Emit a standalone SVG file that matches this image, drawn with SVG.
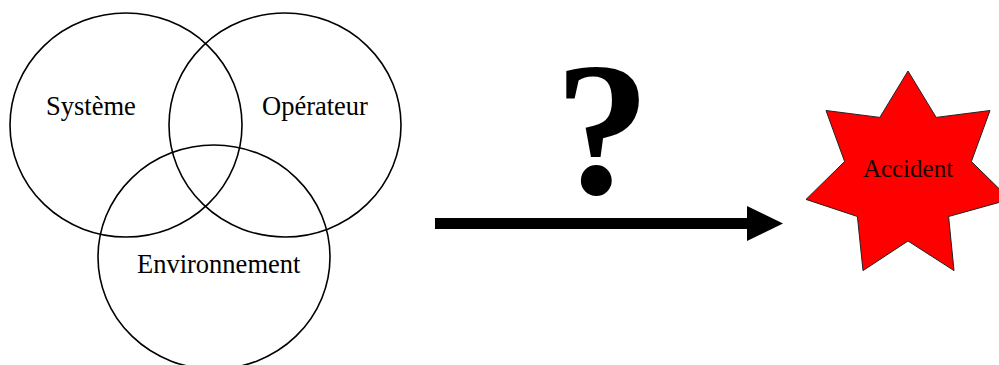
<svg xmlns="http://www.w3.org/2000/svg" width="999" height="365" viewBox="0 0 999 365">
<style>
.c{fill:none;stroke:#000;stroke-width:1.6}
.t{font-family:"Liberation Serif","Times New Roman",serif;font-size:26.5px;fill:#000}
</style>
<rect width="999" height="365" fill="#fff"/>
<g id="systeme">
<ellipse class="c" cx="126" cy="125" rx="116" ry="112"/>
<text class="t" x="46" y="115">Système</text>
</g>
<g id="operateur">
<ellipse class="c" cx="285" cy="125" rx="116" ry="112"/>
<text class="t" x="262" y="115">Opérateur</text>
</g>
<g id="environnement">
<ellipse class="c" cx="214" cy="257" rx="116" ry="112"/>
<text class="t" x="137" y="273">Environnement</text>
</g>
<g id="question">
<text x="602.5" y="193" text-anchor="middle" style="font-family:'Liberation Serif','Times New Roman',serif;font-weight:bold;font-size:191px;fill:#000">?</text>
</g>
<g id="connectors">
<rect x="435" y="218" width="313" height="11" fill="#000"/>
<polygon points="747,206 783,223.5 747,241" fill="#000"/>
</g>
<g id="accident">
<polygon points="908,71 936.2,117.4 990,110.5 971.4,161.5 1010,199.4 948.6,216.5 954,270.6 908,241 863,270.6 857.4,216.5 806,199.4 844.6,161.5 826,110.5 879.8,117.4" fill="#ff0000" stroke="#222" stroke-width="1"/>
<text x="908" y="177" text-anchor="middle" style="font-family:'Liberation Serif','Times New Roman',serif;font-size:25px;fill:#1a0000">Accident</text>
</g>
</svg>
